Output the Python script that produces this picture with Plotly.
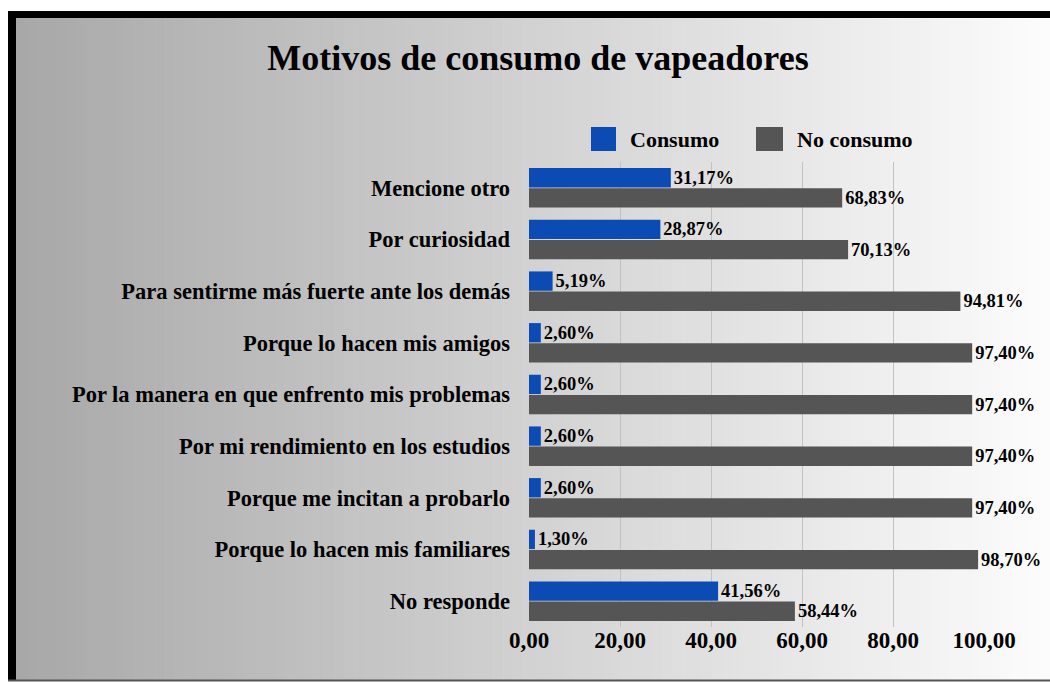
import plotly.graph_objects as go

categories = [
    "Mencione otro",
    "Por curiosidad",
    "Para sentirme más fuerte ante los demás",
    "Porque lo hacen mis amigos",
    "Por la manera en que enfrento mis problemas",
    "Por mi rendimiento en los estudios",
    "Porque me incitan a probarlo",
    "Porque lo hacen mis familiares",
    "No responde",
]
consumo = [31.17, 28.87, 5.19, 2.60, 2.60, 2.60, 2.60, 1.30, 41.56]
no_consumo = [68.83, 70.13, 94.81, 97.40, 97.40, 97.40, 97.40, 98.70, 58.44]
x_ticks = [0, 20, 40, 60, 80, 100]

W, H = 1050, 683
FONT = "Liberation Serif, Times New Roman, serif"
BLUE = "#0B4BB3"
GRAY = "#555555"

def px_x(p):
    return p / W

def px_y(p):
    return 1 - p / H

fig = go.Figure()
fig.add_trace(go.Bar(
    y=categories, x=consumo, name="Consumo", orientation="h",
    marker=dict(color=BLUE, line=dict(width=0)),
    texttemplate="%{x:.2f}%", textposition="outside", cliponaxis=False,
    constraintext="none",
    textfont=dict(family=FONT, size=18.5, color="black", weight="bold"),
))
fig.add_trace(go.Bar(
    y=categories, x=no_consumo, name="No consumo", orientation="h",
    marker=dict(color=GRAY, line=dict(width=0)),
    texttemplate="%{x:.2f}%", textposition="outside", cliponaxis=False,
    constraintext="none",
    textfont=dict(family=FONT, size=18.5, color="black", weight="bold"),
))

# background gradient + frame
shapes = []
x0 = 16
n = 104
step = (W - x0) / n
for i in range(n):
    t = i / (n - 1)
    c = int(round(168 + (252 - 168) * t))
    shapes.append(dict(
        type="rect", xref="paper", yref="paper", layer="below",
        x0=px_x(x0 + i * step), x1=px_x(x0 + (i + 1) * step + 0.6),
        y0=px_y(680), y1=px_y(18),
        fillcolor=f"rgb({c},{c},{c})", line=dict(width=0),
    ))
shapes.append(dict(type="rect", xref="paper", yref="paper", layer="below",
                   x0=px_x(8), x1=px_x(16), y0=px_y(681), y1=px_y(11),
                   fillcolor="black", line=dict(width=0)))
shapes.append(dict(type="rect", xref="paper", yref="paper", layer="below",
                   x0=px_x(8), x1=px_x(W), y0=px_y(18), y1=px_y(11),
                   fillcolor="black", line=dict(width=0)))
shapes.append(dict(type="rect", xref="paper", yref="paper", layer="below",
                   x0=px_x(8), x1=px_x(W), y0=px_y(681.5), y1=px_y(679.5),
                   fillcolor="#555555", line=dict(width=0)))
# enlarged legend swatches (decoration behind the native legend symbols)
for (a, b), col in [((591, 616), BLUE), ((756, 783), GRAY)]:
    shapes.append(dict(type="rect", xref="paper", yref="paper", layer="above",
                       x0=px_x(a), x1=px_x(b), y0=px_y(151), y1=px_y(127),
                       fillcolor=col, line=dict(width=0)))

fig.update_layout(
    width=W, height=H,
    autosize=False,
    margin=dict(l=0, r=0, t=0, b=0, pad=0, autoexpand=False),
    paper_bgcolor="white",
    plot_bgcolor="rgba(0,0,0,0)",
    separators=",.",
    barmode="group",
    bargap=0.22,
    bargroupgap=0.04,
    shapes=shapes,
    title=dict(
        text="Motivos de consumo de vapeadores",
        x=px_x(538), xanchor="center", xref="paper",
        y=px_y(57), yanchor="middle", yref="paper",
        font=dict(family=FONT, size=36, color="black", weight="bold"),
    ),
    legend=dict(
        orientation="h", x=px_x(590), xanchor="left",
        y=px_y(139), yanchor="middle",
        font=dict(family=FONT, size=22, color="black", weight="bold"),
        bgcolor="rgba(0,0,0,0)", traceorder="normal",
        entrywidth=122, entrywidthmode="pixels",
    ),
    xaxis=dict(
        domain=[px_x(529), px_x(984)],
        range=[0, 100],
        tickvals=x_ticks,
        tickformat=".2f",
        showgrid=True, gridcolor="#c2c2c2", gridwidth=1,
        zeroline=False, showline=False, automargin=False,
        tickfont=dict(family=FONT, size=23, color="black", weight="bold"),
        ticks="", ticklabelstandoff=-3,
    ),
    yaxis=dict(
        domain=[px_y(627), px_y(162)],
        autorange="reversed",
        showgrid=False, zeroline=False, showline=False, automargin=False,
        tickfont=dict(family=FONT, size=22.5, color="black", weight="bold"),
        ticks="", ticklabelstandoff=18,
    ),
)

fig.write_html("out.html", config={"displayModeBar": False},
               post_script="document.body.style.margin='0px';")
